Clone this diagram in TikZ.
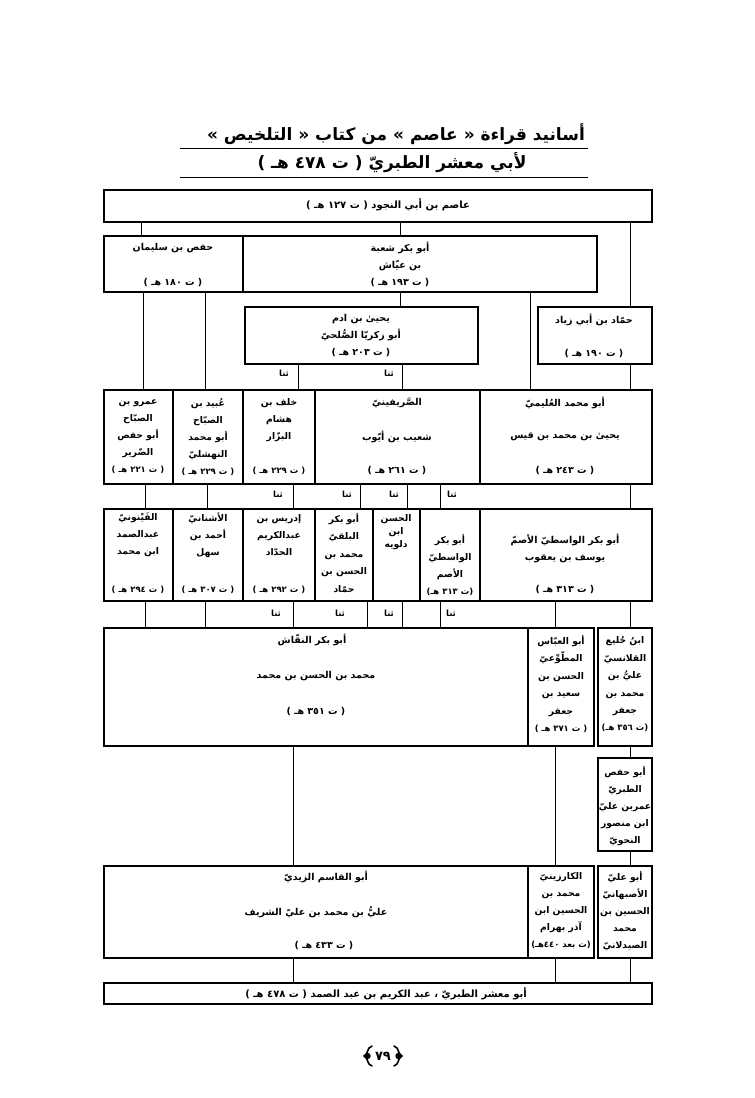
\documentclass[tikz,border=0pt]{standalone}
\usepackage{fontspec}
\usetikzlibrary{fit}
\newfontfamily\arabicfont[Script=Arabic]{DejaVu Sans}
\TeXXeTstate=1
\newcommand\ar[1]{\beginR #1\endR}
\newcommand\sm[1]{{\fontsize{8.5}{10}\selectfont #1}}
\tikzset{
  box/.style={draw, line width=1.6pt, inner sep=0pt},
  conn/.style={line width=0.7pt},
  tx/.style={inner sep=0pt, align=center, font=\arabicfont\bfseries\fontsize{9.5}{17}\selectfont},
  nx/.style={inner sep=0pt, align=center, font=\arabicfont\bfseries\fontsize{9.2}{17}\selectfont},
  lbl/.style={inner sep=0pt, font=\arabicfont\bfseries\fontsize{8.5}{10}\selectfont},
  ttl/.style={inner sep=0pt, font=\arabicfont\bfseries\fontsize{17}{19}\selectfont},
  orn/.style={line width=1.6pt, line cap=round},
}
\begin{document}
\begin{tikzpicture}[x=1pt,y=-1pt]
\useasboundingbox (0,0) rectangle (755,1098);
% title
\node[ttl] (title1) at (396,134) {\ar{أسانيد قراءة « عاصم » من كتاب « التلخيص »}};
\node[ttl] (title2) at (392,163) {\ar{لأبي معشر الطبريّ ( ت ٤٧٨ هـ )}};
\coordinate (u1a) at (180,148); \coordinate (u1b) at (588,148);
\coordinate (u2a) at (180,177); \coordinate (u2b) at (588,177);
\draw[line width=1pt] (u1a) -- (u1b);
\draw[line width=1pt] (u2a) -- (u2b);
% row 1
\node[box, fit={(104,190) (652,222)}] (asim) {};
\node[tx, font=\arabicfont\bfseries\fontsize{10}{12}\selectfont] (asimT) at (388,205) {\ar{عاصم بن أبي النجود ( ت ١٢٧ هـ )}};
% row 2
\node[box, fit={(104,236) (243,292)}] (hafs) {};
\node[tx] (hafsT) at (173,248) {\ar{حفص بن سليمان}};
\node[tx] (hafsD) at (173,283) {\ar{( ت ١٨٠ هـ )}};
\node[box, fit={(243,236) (597,292)}] (shuba) {};
\node[tx] (shubaT) at (400,256) {\ar{أبو بكر شعبة}\\\ar{بن عيّاش}};
\node[tx] (shubaD) at (400,283) {\ar{( ت ١٩٣ هـ )}};
% row 3
\node[box, fit={(245,307) (478,364)}] (yahya) {};
\node[tx] (yahyaT) at (361,336) {\ar{يحيىٰ بن ادم}\\\ar{أبو زكريّا الصُّلحيّ}\\\ar{( ت ٢٠٣ هـ )}};
\node[box, fit={(538,307) (652,364)}] (hammad) {};
\node[tx] (hammadT) at (594,320) {\ar{حمّاد بن أبي زياد}};
\node[tx] (hammadD) at (594,354) {\ar{( ت ١٩٠ هـ )}};
% row 4
\node[box, fit={(104,390) (173,484)}] (amr) {};
\node[nx] (amrT) at (138,437) {\ar{عمرو بن}\\الصبّاح\\\ar{أبو حفص}\\الضّرير\\\sm{\ar{( ت ٢٢١ هـ )}}};
\node[box, fit={(173,390) (243,484)}] (ubayd) {};
\node[nx] (ubaydT) at (208,437) {\ar{عُبيد بن}\\الصبّاح\\\ar{أبو محمد}\\النهشليّ\\\sm{\ar{( ت ٢٢٩ هـ )}}};
\node[box, fit={(243,390) (315,484)}] (khalaf) {};
\node[nx] (khalafT) at (279,420) {\ar{خلف بن}\\هشام\\البزّار};
\node[nx] (khalafD) at (279,471) {\sm{\ar{( ت ٢٢٩ هـ )}}};
\node[box, fit={(315,390) (480,484)}] (sarifini) {};
\node[tx] (sarifiniA) at (397,403) {الصَّريفينيّ};
\node[tx] (sarifiniB) at (397,437) {\ar{شعيب بن أيّوب}};
\node[tx] (sarifiniD) at (397,471) {\ar{( ت ٢٦١ هـ )}};
\node[box, fit={(480,390) (652,484)}] (ulaymi) {};
\node[tx] (ulaymiA) at (565,403) {\ar{أبو محمد العُليميّ}};
\node[tx] (ulaymiB) at (565,437) {\ar{يحيىٰ بن محمد بن قيس}};
\node[tx] (ulaymiD) at (565,471) {\ar{( ت ٢٤٣ هـ )}};
% row 5
\node[box, fit={(104,509) (173,601)}] (faynuni) {};
\node[nx] (faynuniT) at (138,535) {الفَيْنونيّ\\عبدالصمد\\\ar{ابن محمد}};
\node[nx] (faynuniD) at (138,590) {\sm{\ar{( ت ٢٩٤ هـ )}}};
\node[box, fit={(173,509) (243,601)}] (ushnani) {};
\node[nx] (ushnaniT) at (208,535) {الأشنانيّ\\\ar{أحمد بن}\\سهل};
\node[nx] (ushnaniD) at (208,590) {\sm{\ar{( ت ٣٠٧ هـ )}}};
\node[box, fit={(243,509) (315,601)}] (idris) {};
\node[nx] (idrisT) at (279,535) {\ar{إدريس بن}\\عبدالكريم\\الحدّاد};
\node[nx] (idrisD) at (279,590) {\sm{\ar{( ت ٢٩٢ هـ )}}};
\node[box, fit={(315,509) (373,601)}] (balqi) {};
\node[nx, font=\arabicfont\bfseries\fontsize{9.2}{17.5}\selectfont] (balqiT) at (344,553) {\ar{أبو بكر}\\البلقيّ\\\ar{محمد بن}\\\ar{الحسن بن}\\حمّاد};
\node[box, fit={(373,509) (420,601)}] (dulawayh) {};
\node[nx, font=\arabicfont\bfseries\fontsize{9.2}{13}\selectfont] (dulawayhT) at (396,532) {الحسن\\ابن\\دلويه};
\node[box, fit={(420,509) (480,601)}] (wasiti) {};
\node[nx, font=\arabicfont\bfseries\fontsize{9.2}{16.7}\selectfont] (wasitiT) at (450,565) {\ar{أبو بكر}\\الواسطيّ\\الأصم\\\sm{\ar{(ت ٣١٣ هـ)}}};
\node[box, fit={(480,509) (652,601)}] (asamm) {};
\node[tx] (asammT) at (565,548) {\ar{أبو بكر الواسطيّ الأصمّ}\\\ar{يوسف بن يعقوب}};
\node[tx] (asammD) at (565,590) {\ar{( ت ٣١٣ هـ )}};
% row 6
\node[box, fit={(104,628) (528,746)}] (naqqash) {};
\node[tx] (naqqashA) at (312,640) {\ar{أبو بكر النقّاش}};
\node[tx] (naqqashB) at (316,676) {\ar{محمد بن الحسن بن محمد}};
\node[tx] (naqqashD) at (316,712) {\ar{( ت ٣٥١ هـ )}};
\node[box, fit={(528,628) (594,746)}] (mutawwii) {};
\node[nx, font=\arabicfont\bfseries\fontsize{9.2}{17.4}\selectfont] (mutawwiiT) at (561,684) {\ar{أبو العبّاس}\\المطّوِّعيّ\\\ar{الحسن بن}\\\ar{سعيد بن}\\جعفر\\\sm{\ar{( ت ٣٧١ هـ )}}};
\node[box, fit={(598,628) (652,746)}] (khulay) {};
\node[nx, font=\arabicfont\bfseries\fontsize{9.2}{17.4}\selectfont] (khulayT) at (625,684) {\ar{ابنُ خُليع}\\القلانسيّ\\\ar{عليُّ بن}\\\ar{محمد بن}\\جعفر\\\sm{\ar{(ت ٣٥٦ هـ)}}};
% row 7
\node[box, fit={(598,758) (652,851)}] (abuhafs) {};
\node[nx] (abuhafsT) at (625,806) {\ar{أبو حفص}\\الطبريّ\\\ar{عمربن عليّ}\\\ar{ابن منصور}\\النحويّ};
% row 8
\node[box, fit={(104,866) (528,958)}] (zaydi) {};
\node[tx] (zaydiA) at (326,877) {\ar{أبو القاسم الزيديّ}};
\node[tx] (zaydiB) at (316,912) {\ar{عليُّ بن محمد بن عليّ الشريف}};
\node[tx] (zaydiD) at (324,946) {\ar{( ت ٤٣٣ هـ )}};
\node[box, fit={(528,866) (594,958)}] (kazaruni) {};
\node[nx] (kazaruniT) at (561,911) {الكارزينيّ\\\ar{محمد بن}\\\ar{الحسين ابن}\\\ar{آذر بهرام}\\\sm{\ar{(ت بعد ٤٤٠هـ)}}};
\node[box, fit={(598,866) (652,958)}] (isbahani) {};
\node[nx] (isbahaniT) at (625,911) {\ar{أبو عليّ}\\الأصبهانيّ\\\ar{الحسين بن}\\محمد\\الصيدلانيّ};
% final
\node[box, fit={(104,983) (652,1004)}] (tabari) {};
\node[tx, font=\arabicfont\bfseries\fontsize{10}{12}\selectfont] (tabariT) at (386,994) {\ar{أبو معشر الطبريّ ، عبد الكريم بن عبد الصمد ( ت ٤٧٨ هـ )}};
% page number with ornate brackets drawn as shapes
\node[ttl, font=\arabicfont\bfseries\fontsize{13}{15}\selectfont] (page) at (383,1056) {٧٩};
\draw[orn] (372,1046) .. controls (366,1048) and (369,1054) .. (364,1056) .. controls (369,1058) and (366,1064) .. (372,1066);
\fill (367.5,1056) circle (3.2);
\draw[orn] (394,1046) .. controls (400,1048) and (397,1054) .. (402,1056) .. controls (397,1058) and (400,1064) .. (394,1066);
\fill (398.5,1056) circle (3.2);
% connectors
\draw[conn] (asim.south -| 141,0) -- (hafs.north -| 141,0);
\draw[conn] (asim.south -| 400,0) -- (shuba.north -| 400,0);
\draw[conn] (asim.south -| 630,0) -- (hammad.north -| 630,0);
\draw[conn] (shuba.south -| 400,0) -- (yahya.north -| 400,0);
\draw[conn] (shuba.south -| 530,0) -- (ulaymi.north -| 530,0);
\draw[conn] (hafs.south -| 143,0) -- (amr.north -| 143,0);
\draw[conn] (hafs.south -| 205,0) -- (ubayd.north -| 205,0);
\draw[conn] (yahya.south -| 298,0) -- (khalaf.north -| 298,0);
\draw[conn] (yahya.south -| 402,0) -- (sarifini.north -| 402,0);
\draw[conn] (hammad.south -| 630,0) -- (ulaymi.north -| 630,0);
\node[lbl] (th1) at (284,373) {ثنا};
\node[lbl] (th2) at (389,373) {ثنا};
\draw[conn] (amr.south -| 145,0) -- (faynuni.north -| 145,0);
\draw[conn] (ubayd.south -| 207,0) -- (ushnani.north -| 207,0);
\draw[conn] (khalaf.south -| 293,0) -- (idris.north -| 293,0);
\draw[conn] (sarifini.south -| 360,0) -- (balqi.north -| 360,0);
\draw[conn] (sarifini.south -| 407,0) -- (dulawayh.north -| 407,0);
\draw[conn] (sarifini.south -| 440,0) -- (wasiti.north -| 440,0);
\draw[conn] (ulaymi.south -| 630,0) -- (asamm.north -| 630,0);
\node[lbl] (th3) at (278,494) {ثنا};
\node[lbl] (th4) at (347,494) {ثنا};
\node[lbl] (th5) at (394,494) {ثنا};
\node[lbl] (th6) at (452,494) {ثنا};
\draw[conn] (faynuni.south -| 145,0) -- (naqqash.north -| 145,0);
\draw[conn] (ushnani.south -| 205,0) -- (naqqash.north -| 205,0);
\draw[conn] (idris.south -| 293,0) -- (naqqash.north -| 293,0);
\draw[conn] (balqi.south -| 367,0) -- (naqqash.north -| 367,0);
\draw[conn] (dulawayh.south -| 402,0) -- (naqqash.north -| 402,0);
\draw[conn] (wasiti.south -| 440,0) -- (naqqash.north -| 440,0);
\draw[conn] (asamm.south -| 555,0) -- (mutawwii.north -| 555,0);
\draw[conn] (asamm.south -| 630,0) -- (khulay.north -| 630,0);
\node[lbl] (th7) at (276,613) {ثنا};
\node[lbl] (th8) at (340,613) {ثنا};
\node[lbl] (th9) at (389,613) {ثنا};
\node[lbl] (th10) at (451,613) {ثنا};
\draw[conn] (naqqash.south -| 293,0) -- (zaydi.north -| 293,0);
\draw[conn] (mutawwii.south -| 555,0) -- (kazaruni.north -| 555,0);
\draw[conn] (khulay.south -| 630,0) -- (abuhafs.north -| 630,0);
\draw[conn] (abuhafs.south -| 630,0) -- (isbahani.north -| 630,0);
\draw[conn] (zaydi.south -| 293,0) -- (tabari.north -| 293,0);
\draw[conn] (kazaruni.south -| 555,0) -- (tabari.north -| 555,0);
\draw[conn] (isbahani.south -| 630,0) -- (tabari.north -| 630,0);
\end{tikzpicture}
\end{document}
